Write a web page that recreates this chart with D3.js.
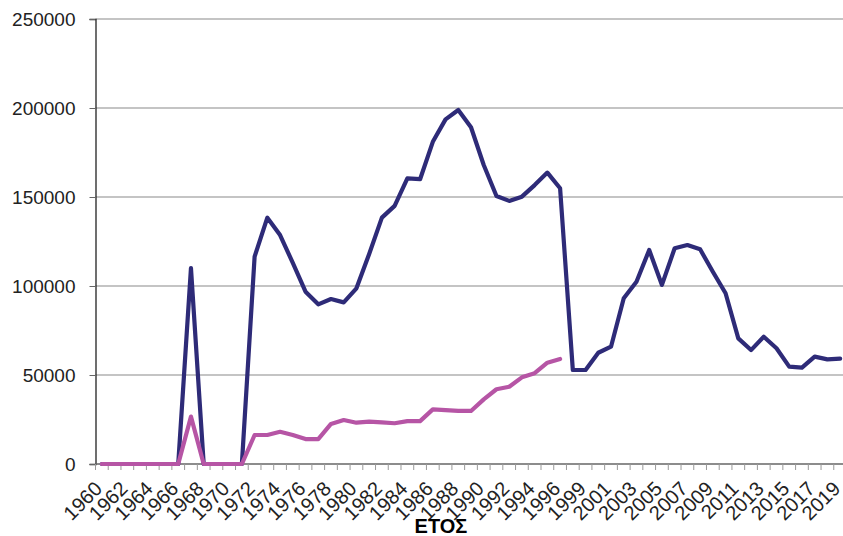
<!DOCTYPE html>
<html>
<head>
<meta charset="utf-8">
<script src="https://cdn.jsdelivr.net/npm/d3@7"></script>
<style>
html,body{margin:0;padding:0;background:#fff;}
svg{display:block;font-family:"Liberation Sans",Arial,sans-serif;}
</style>
</head>
<body>
<svg id="chart" width="843" height="536"></svg>
<script>
const years = [
  "1960","1961","1962","1963","1964","1965","1966","1967","1968","1969",
  "1970","1971","1972","1973","1974","1975","1976","1977","1978","1979",
  "1980","1981","1982","1983","1984","1985","1986","1987","1988","1989",
  "1990","1991","1992","1993","1994","1995","1996","1998","1999","2000",
  "2001","2002","2003","2004","2005","2006","2007","2008","2009","2010",
  "2011","2012","2013","2014","2015","2016","2017","2018","2019"
];
const seriesDark = [
  0,0,0,0,0,0,0,110000,0,0,
  0,0,116500,138400,128600,113000,96800,89700,92700,90800,
  98700,118000,138400,145000,160500,160000,181000,193600,198900,189200,
  168000,150600,147800,150200,156700,163700,154900,52800,52800,62500,
  65900,93100,102400,120200,100600,121200,123000,120600,108000,95900,
  70600,64000,71500,65000,54700,54100,60300,58800,59200
];
const seriesPink = [
  0,0,0,0,0,0,0,26600,0,0,
  0,0,16300,16300,18100,16300,14000,14000,22500,24700,
  23200,23800,23400,22900,24100,24100,30700,30300,29800,29800,
  36300,42000,43400,48700,51000,56900,59000,null,null,null,
  null,null,null,null,null,null,null,null,null,null,
  null,null,null,null,null,null,null,null,null
];
const yTicks = [0,50000,100000,150000,200000,250000];
const xTitle = "ΕΤΟΣ";

(function(){
const svg = d3.select("#chart");
const mLeft = 95.5, mRight = 846.5, mTop = 19, mBottom = 464;

const x = d3.scaleBand().domain(years).range([mLeft, mRight]).padding(0);
const y = d3.scaleLinear().domain([0, 250000]).range([mBottom, mTop]);
const cx = d => x(d) + x.bandwidth()/2;

// gridlines
svg.append("g").selectAll("line").data(yTicks.filter(t => t > 0)).join("line")
  .attr("x1", mLeft).attr("x2", mRight)
  .attr("y1", d => y(d)).attr("y2", d => y(d))
  .attr("stroke", "#8a8a8a").attr("stroke-width", 1.2);

// y axis
const yAxis = d3.axisLeft(y).tickValues(yTicks).tickSize(6).tickPadding(14).tickFormat(d3.format("d"));
const gy = svg.append("g").attr("transform", `translate(${mLeft},0)`).call(yAxis);
gy.select(".domain").attr("stroke", "#222").attr("stroke-width", 1.3);
gy.selectAll(".tick line").attr("stroke", "#666");
gy.selectAll(".tick text").attr("font-size", 19).attr("fill", "#222")
  .attr("font-family", "'Liberation Sans',Arial,sans-serif");

// x axis baseline
svg.append("line").attr("x1", mLeft).attr("x2", mRight).attr("y1", mBottom).attr("y2", mBottom)
  .attr("stroke", "#666").attr("stroke-width", 1.3);
// x ticks at band boundaries
const bounds = years.map(d => x(d)).concat([x(years[years.length-1]) + x.bandwidth()]);
svg.append("g").selectAll("line").data(bounds).join("line")
  .attr("x1", d => d).attr("x2", d => d).attr("y1", mBottom).attr("y2", mBottom + 6)
  .attr("stroke", "#999").attr("stroke-width", 1);

// x labels every other category
svg.append("g").selectAll("text").data(years.filter((d,i) => i % 2 === 0)).join("text")
  .attr("transform", d => `translate(${cx(d) - 3.5},${mBottom + 21}) rotate(-45)`)
  .attr("text-anchor", "end")
  .attr("dy", "0.35em")
  .attr("font-size", 20).attr("fill", "#222")
  .text(d => d);

// x title
svg.append("text").attr("x", 441).attr("y", 533)
  .attr("text-anchor", "middle").attr("font-size", 20).attr("font-weight", "bold")
  .attr("fill", "#000").text(xTitle);

// lines
const line = d3.line().defined(d => d.v !== null).x(d => cx(d.k)).y(d => y(d.v));
const pinkData = years.map((k,i) => ({k, v: seriesPink[i]}));
const darkData = years.map((k,i) => ({k, v: seriesDark[i]}));
svg.append("path").datum(darkData)
  .attr("d", line).attr("fill", "none").attr("stroke", "#2e2b78")
  .attr("stroke-width", 4.2).attr("stroke-linejoin", "round").attr("stroke-linecap","round");
svg.append("path").datum(pinkData)
  .attr("d", line).attr("fill", "none").attr("stroke", "#b655a5")
  .attr("stroke-width", 4.2).attr("stroke-linejoin", "round").attr("stroke-linecap","round");
})();
</script>
</body>
</html>
